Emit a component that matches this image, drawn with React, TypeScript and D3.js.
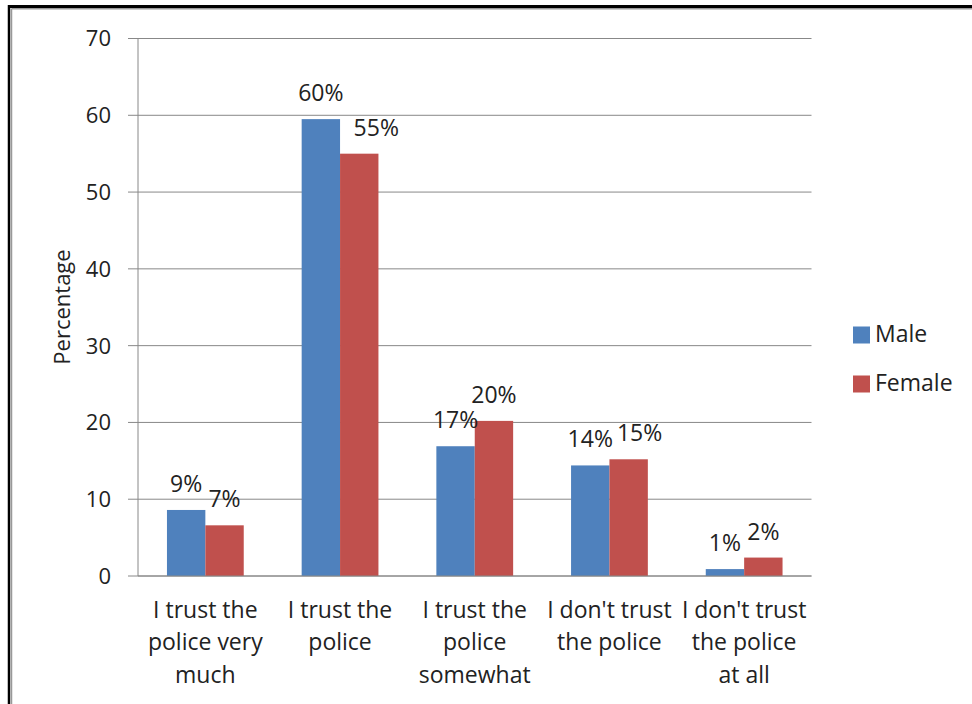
import React from "react";
import * as d3 from "d3";

const categories: string[][] = [
  ["I trust the", "police very", "much"],
  ["I trust the", "police"],
  ["I trust the", "police", "somewhat"],
  ["I don't trust", "the police"],
  ["I don't trust", "the police", "at all"],
];
const seriesNames = ["Male", "Female"];
const maleValues = [8.6, 59.5, 16.9, 14.4, 0.9];
const femaleValues = [6.6, 55.0, 20.2, 15.2, 2.4];
const maleLabels = ["9%", "60%", "17%", "14%", "1%"];
const femaleLabels = ["7%", "55%", "20%", "15%", "2%"];
const yTicks = [0, 10, 20, 30, 40, 50, 60, 70];
const yTitle = "Percentage";

const COLORS = ["#4F81BD", "#C0504D"];
const FONT = "'Open Sans', sans-serif";

export default function App() {
  const W = 972, H = 704;
  const left = 138, right = 811.5, top = 38.5, bottom = 576;
  const y = d3.scaleLinear().domain([0, 70]).range([bottom, top]);
  const x0 = d3.scaleBand<number>().domain(categories.map((_, i) => i)).range([left, right]).paddingInner(0).paddingOuter(0);
  const bw = x0.bandwidth();
  const barW = bw * 0.285;
  const series = [maleValues, femaleValues];
  const labels = [maleLabels, femaleLabels];
  // Excel's nudges for overlapping labels
  const labelDx: Record<string, number> = { "1-1": 17, "1-3": 11 };

  return (
    <svg width={W} height={H} style={{ position: "absolute", left: 0, top: 0, background: "#fff" }} fontFamily={FONT}>
      <rect x={0} y={0} width={W} height={H} fill="#fff" />
      {/* border */}
      <line x1={9} y1={6.5} x2={W} y2={6.5} stroke="#000" strokeWidth={3} />
      <line x1={9} y1={5} x2={9} y2={H} stroke="#000" strokeWidth={2.5} />
      <line x1={11.5} y1={8.8} x2={W} y2={8.8} stroke="#999" strokeWidth={1.5} />
      <line x1={11.5} y1={8.8} x2={11.5} y2={H} stroke="#999" strokeWidth={1.5} />

      {/* gridlines + ticks */}
      {yTicks.map((t) => (
        <g key={t}>
          <line x1={128} x2={right} y1={y(t)} y2={y(t)} stroke="#888" strokeWidth={1} />
          <text x={111} y={y(t)} dy="0.36em" textAnchor="end" fontSize={22} fill="#222">{t}</text>
        </g>
      ))}
      <line x1={left} x2={left} y1={top} y2={bottom} stroke="#888" strokeWidth={1} />

      {/* bars */}
      {categories.map((_, i) => {
        const cx = (x0(i) as number) + bw / 2;
        return (
          <g key={i}>
            {series.map((vals, s) => {
              const bx = cx - barW + s * barW;
              return (
                <rect key={s} x={bx} y={y(vals[i])} width={barW} height={y(0) - y(vals[i])} fill={COLORS[s]} />
              );
            })}
          </g>
        );
      })}
      <line x1={left} x2={right} y1={bottom} y2={bottom} stroke="#888" strokeWidth={1} />

      {/* data labels */}
      {categories.map((_, i) => {
        const cx = (x0(i) as number) + bw / 2;
        return series.map((vals, s) => {
          const bx = cx - barW + s * barW + barW / 2 + (labelDx[`${s}-${i}`] || 0);
          return (
            <text key={`${i}-${s}`} x={bx} y={y(vals[i]) - 18} textAnchor="middle" fontSize={23} fill="#222">
              {labels[s][i]}
            </text>
          );
        });
      })}

      {/* category labels */}
      {categories.map((lines, i) => {
        const cx = (x0(i) as number) + bw / 2;
        return (
          <text key={i} textAnchor="middle" fontSize={23} fill="#222">
            {lines.map((ln, k) => (
              <tspan key={k} x={cx} y={617.5 + k * 32.8}>{ln}</tspan>
            ))}
          </text>
        );
      })}

      {/* y title */}
      <text transform={`translate(70,${307}) rotate(-90)`} textAnchor="middle" fontSize={22} fill="#222">{yTitle}</text>

      {/* legend */}
      {seriesNames.map((n, s) => (
        <g key={n} transform={`translate(853,${326.5 + s * 49})`}>
          <rect x={0} y={0} width={17} height={17} fill={COLORS[s]} />
          <text x={22} y={15.5} fontSize={23} fill="#222">{n}</text>
        </g>
      ))}
    </svg>
  );
}
